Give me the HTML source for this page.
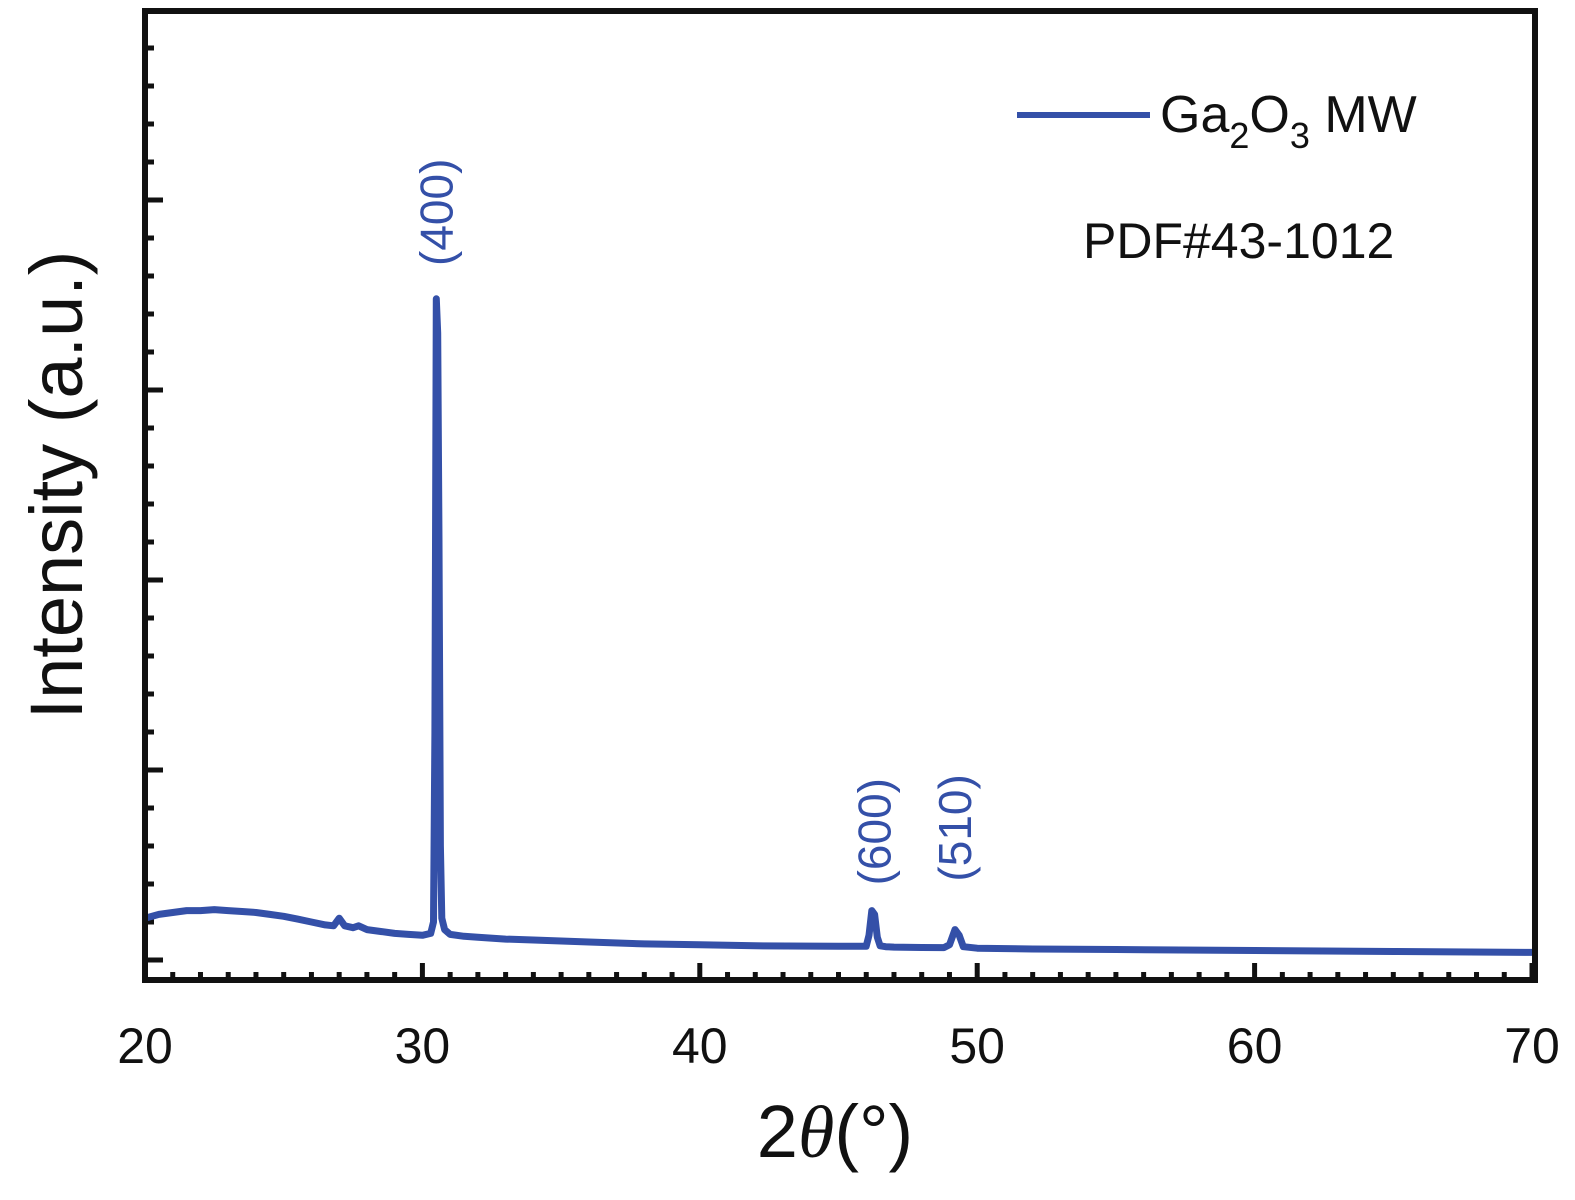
<!DOCTYPE html>
<html><head><meta charset="utf-8"><style>
html,body{margin:0;padding:0;background:#fff;}
svg{display:block;font-family:"Liberation Sans","DejaVu Sans",sans-serif;}
</style></head><body>
<svg id="chart" width="1575" height="1200" viewBox="0 0 1575 1200">
<g id="ticks"></g>
<g id="series"></g>
<rect x="145" y="11" width="1390" height="969" fill="none" stroke="#111" stroke-width="6"/>
<g id="xlabels" font-size="50" fill="#111" text-anchor="middle"></g>
<text x="835" y="1157" font-size="74" text-anchor="middle" fill="#111">2<tspan font-family="Liberation Serif,serif" font-style="italic">θ</tspan>(°)</text>
<text transform="translate(82,485) rotate(-90)" font-size="74" text-anchor="middle" fill="#111">Intensity (a.u.)</text>
<g id="peaklabels" font-size="46" fill="#3450a8" text-anchor="middle"></g>
<line x1="1017" y1="115" x2="1150" y2="115" stroke="#3450a8" stroke-width="6"/>
<text x="1160" y="132" font-size="52" fill="#111">Ga<tspan font-size="36" dy="16">2</tspan><tspan dy="-16">O</tspan><tspan font-size="36" dy="16">3</tspan><tspan dy="-16"> MW</tspan></text>
<text x="1083" y="258" font-size="50" fill="#111">PDF#43-1012</text>
</svg>
<script>
const xTicks = [20,30,40,50,60,70];
const yMajor = [0,1,2,3,4];
const twoTheta = [20,20.5,21,21.5,22,22.5,23,23.5,24,24.5,25,25.5,26,26.5,26.8,27,27.2,27.5,27.7,28,28.5,29,29.5,30,30.3,30.4,30.45,30.5,30.55,30.6,30.65,30.7,30.8,31,31.5,32,33,34,35,36,38,40,42,44,45,46,46.1,46.2,46.3,46.4,46.5,46.7,47,48,48.8,49,49.2,49.35,49.5,50,52,55,60,65,70];
const intensity = [0.22,0.24,0.25,0.26,0.26,0.265,0.26,0.255,0.25,0.24,0.23,0.215,0.2,0.185,0.18,0.22,0.18,0.17,0.18,0.16,0.15,0.14,0.135,0.13,0.14,0.2,1.2,3.48,3.3,2.2,0.6,0.22,0.16,0.135,0.125,0.12,0.11,0.105,0.1,0.095,0.085,0.08,0.075,0.073,0.072,0.072,0.13,0.26,0.24,0.12,0.075,0.07,0.068,0.066,0.065,0.08,0.16,0.13,0.07,0.062,0.058,0.055,0.05,0.045,0.04];
const peakNames = ["(400)","(600)","(510)"];
const peakPos = [30.5,46.3,49.2];
const peakLabelVal = [3.63,0.37,0.39];

const X = v => 145 + (v-20)*(1532-145)/50;
const Y = v => 960 - v*190;
const NS = "http://www.w3.org/2000/svg";
function mk(tag, attrs, parent){const e=document.createElementNS(NS,tag);for(const k in attrs)e.setAttribute(k,attrs[k]);parent.appendChild(e);return e;}
const tg = document.getElementById('ticks');
for(let v=20; v<=70; v+=1){
  const major = xTicks.includes(v);
  const t = mk('line',{x1:X(v),x2:X(v),y1:980,y2:major?963:972,stroke:'#111','stroke-width':5},tg);
  
  
}
for(let i=0;i<=24;i++){
  const v=i/5; const major = i%5===0;
  const t = mk('line',{x1:145,x2:major?163:154,y1:Y(v),y2:Y(v),stroke:'#111','stroke-width':5},tg);
  
  
}
const xl = document.getElementById('xlabels');
xTicks.forEach(v=>{
  const t = mk('text',{x:X(v),y:1063},xl); t.textContent=v;
  
  
});
const sg = document.getElementById('series');
const d = twoTheta.map((v,i)=>(i?'L':'M')+X(v).toFixed(1)+','+Y(intensity[i]).toFixed(1)).join(' ');
const p = mk('path',{d:d,fill:'none',stroke:'#3450a8','stroke-width':7,'stroke-linejoin':'round'},sg);


const pl = document.getElementById('peaklabels');
peakNames.forEach((n,i)=>{
  const x=X(peakPos[i])+16, y=Y(peakLabelVal[i])-58;
  const t = mk('text',{transform:`translate(${x},${y}) rotate(-90)`},pl); t.textContent=n;
  
  
});
</script>
</body></html>
